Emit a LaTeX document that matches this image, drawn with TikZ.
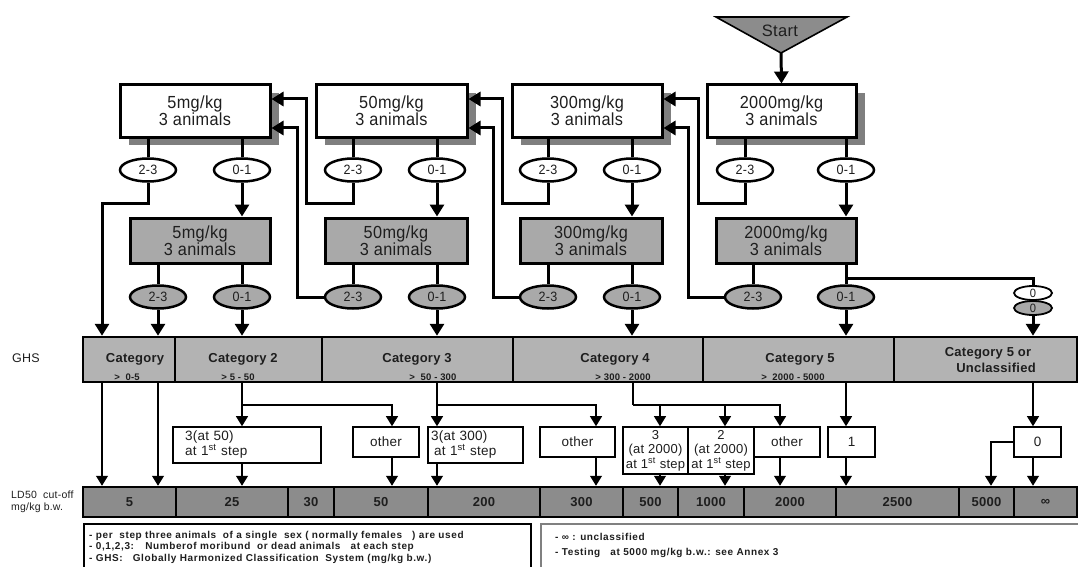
\documentclass[tikz,border=0pt]{standalone}
\usepackage{fontspec}
\setmainfont{Liberation Sans}[LetterSpace=2]
\newfontfamily\notefont{Liberation Sans}[LetterSpace=6]
\newfontfamily\boxfont{Liberation Sans}[LetterSpace=2,FakeStretch=0.93]
\usetikzlibrary{arrows.meta,shadows,shapes.geometric}
\definecolor{shgray}{HTML}{7F7F7F}
\definecolor{boxgray}{HTML}{A9A9A9}
\definecolor{ghsgray}{HTML}{B3B3B3}
\definecolor{ldgray}{HTML}{8C8C8C}
\definecolor{ink}{HTML}{1E1E1E}
\newcommand{\myfs}[2]{\fontsize{#1}{#2}\selectfont}
\begin{document}
\begin{tikzpicture}[x=1pt,y=-1pt,
  every node/.style={text=ink},
  hline/.style={line width=3pt},
  harr/.style={line width=3pt,-{Triangle[length=12pt,width=14pt]}},
  lline/.style={line width=1.2pt},
  larr/.style={line width=1.2pt,-{Triangle[length=10pt,width=12pt]}},
  wbox/.style={draw,line width=3pt,fill=white,inner sep=0pt,minimum height=52pt,align=center,font=\boxfont\myfs{17.5}{17},
    drop shadow={shadow xshift=9pt,shadow yshift=-8pt,fill=shgray,opacity=1}},
  gbox/.style={draw,line width=3pt,fill=boxgray,inner sep=0pt,minimum height=45pt,align=center,font=\boxfont\myfs{17.5}{17.5}},
  ell/.style={ellipse,draw,line width=2.5pt,fill=white,minimum width=56pt,minimum height=23pt,inner sep=0pt,font=\boxfont\myfs{13.5}{14}},
  gell/.style={ell,fill=boxgray},
  zell/.style={ellipse,draw,line width=1.8pt,minimum width=38pt,minimum height=14pt,inner sep=0pt,font=\boxfont\myfs{12}{12}},
  ghs/.style={draw,line width=2.5pt,fill=ghsgray,minimum height=45pt,inner sep=0pt},
  ld/.style={draw,line width=2.5pt,fill=ldgray,minimum height=30pt,inner sep=0pt,font=\bfseries\myfs{13}{14}},
  mbox/.style={draw,line width=1.6pt,fill=white,inner sep=0pt,font=\myfs{13.5}{15}},
  catl/.style={font=\bfseries\myfs{13}{14}},
  rngl/.style={font=\bfseries\myfs{9.5}{10}},
  note/.style={font=\notefont\bfseries\myfs{10}{11},anchor=base west,inner sep=0pt},
]
\useasboundingbox (0,0) rectangle (1078,567);
\clip (0,0) rectangle (1078,567);

% Start
\fill[ldgray] (716,17) -- (847,17) -- (781,53) -- cycle;
\draw[line width=1.6pt,line join=miter] (716,17) -- (847,17) -- (781,53) -- cycle;
\node[font=\myfs{16.5}{17}] (st) at (780,31) {Start};
\coordinate (sa) at (781,53);

% white boxes
\node[wbox,minimum width=150pt] (w1) at (195,111) {5mg/kg\\3 animals};
\node[wbox,minimum width=151pt] (w2) at (391.5,111) {50mg/kg\\3 animals};
\node[wbox,minimum width=150pt] (w3) at (587,111) {300mg/kg\\3 animals};
\node[wbox,minimum width=149pt] (w4) at (781.5,111) {2000mg/kg\\3 animals};

% gray boxes
\node[gbox,minimum width=140pt] (g1) at (200,240.5) {5mg/kg\\3 animals};
\node[gbox,minimum width=142pt] (g2) at (396,240.5) {50mg/kg\\3 animals};
\node[gbox,minimum width=142pt] (g3) at (591,240.5) {300mg/kg\\3 animals};
\node[gbox,minimum width=140pt] (g4) at (786,240.5) {2000mg/kg\\3 animals};

% white ellipses
\node[ell] (e1a) at (148,170) {2-3};
\node[ell] (e1b) at (242,170) {0-1};
\node[ell] (e2a) at (353,170) {2-3};
\node[ell] (e2b) at (437,170) {0-1};
\node[ell] (e3a) at (548,170) {2-3};
\node[ell] (e3b) at (632,170) {0-1};
\node[ell] (e4a) at (745,170) {2-3};
\node[ell] (e4b) at (846,170) {0-1};

% gray ellipses
\node[gell] (ga1) at (158,297) {2-3};
\node[gell] (gb1) at (242,297) {0-1};
\node[gell] (ga2) at (353,297) {2-3};
\node[gell] (gb2) at (437,297) {0-1};
\node[gell] (ga3) at (548,297) {2-3};
\node[gell] (gb3) at (632,297) {0-1};
\node[gell] (ga4) at (753,297) {2-3};
\node[gell] (gb4) at (846,297) {0-1};

\node[zell,fill=white] (z1) at (1033,293) {0};
\node[zell,fill=boxgray] (z2) at (1033,308) {0};

% GHS bar
\node[ghs,minimum width=92pt] (c1) at (129,359.5) {};
\node[ghs,minimum width=147pt] (c2) at (248.5,359.5) {};
\node[ghs,minimum width=191pt] (c3) at (417.5,359.5) {};
\node[ghs,minimum width=190pt] (c4) at (608,359.5) {};
\node[ghs,minimum width=191pt] (c5) at (798.5,359.5) {};
\node[ghs,minimum width=183pt] (c6) at (985.5,359.5) {};
\node[catl] (t1) at (135,359) {Category};
\node[rngl] (r1) at (127,377) {>~~0-5};
\node[catl] (t2) at (243,359) {Category 2};
\node[rngl] (r2) at (238,377) {> 5 - 50};
\node[catl] (t3) at (417,359) {Category 3};
\node[rngl] (r3) at (433,377) {>~ 50 - 300};
\node[catl] (t4) at (615,359) {Category 4};
\node[rngl] (r4) at (623,377) {> 300 - 2000};
\node[catl] (t5) at (800,359) {Category 5};
\node[rngl] (r5) at (793,377) {>~ 2000 - 5000};
\node[catl] (t6a) at (988,353) {Category 5 or};
\node[catl] (t6b) at (996,368) {Unclassified};
\node[font=\myfs{12.5}{14}] (ghsl) at (26,358) {GHS};

% LD50 bar
\node[ld,minimum width=93pt] (l1) at (129.5,502) {5};
\node[ld,minimum width=112pt] (l2) at (232,502) {25};
\node[ld,minimum width=46pt] (l3) at (311,502) {30};
\node[ld,minimum width=94pt] (l4) at (381,502) {50};
\node[ld,minimum width=112pt] (l5) at (484,502) {200};
\node[ld,minimum width=83pt] (l6) at (581.5,502) {300};
\node[ld,minimum width=55pt] (l7) at (650.5,502) {500};
\node[ld,minimum width=66pt] (l8) at (711,502) {1000};
\node[ld,minimum width=92pt] (l9) at (790,502) {2000};
\node[ld,minimum width=123pt] (l10) at (897.5,502) {2500};
\node[ld,minimum width=55pt] (l11) at (986.5,502) {5000};
\node[ld,minimum width=63pt] (l12) at (1045.5,502) {∞};
\node[font=\myfs{10.5}{11.5},align=left,anchor=west,inner sep=0pt] (ldl) at (11,502) {LD50 \ cut-off\\mg/kg b.w.};

% middle boxes
\node[mbox,minimum width=148pt,minimum height=36pt,text width=124pt,align=left] (b1) at (247,445) {3(at 50)\\at 1\textsuperscript{st} step};
\node[mbox,minimum width=66pt,minimum height=30pt] (o1) at (386,442) {other};
\node[mbox,minimum width=95pt,minimum height=36pt,text width=89pt,align=left] (b2) at (475.5,445) {3(at 300)\\\hspace*{3pt}at 1\textsuperscript{st} step};
\node[mbox,minimum width=75pt,minimum height=30pt] (o2) at (577.5,442) {other};
\node[mbox,minimum width=65pt,minimum height=47pt,align=center,font=\myfs{13}{14.5}] (b3) at (655.5,450.5) {3\\(at 2000)\\at 1\textsuperscript{st} step};
\node[mbox,minimum width=66pt,minimum height=47pt,align=center,font=\myfs{13}{14.5}] (b4) at (721,450.5) {2\\(at 2000)\\at 1\textsuperscript{st} step};
\node[mbox,minimum width=66pt,minimum height=30pt] (o3) at (787,442) {other};
\node[mbox,minimum width=47pt,minimum height=30pt] (n1) at (851.5,442) {1};
\node[mbox,minimum width=47pt,minimum height=30pt] (n0) at (1037.5,442) {0};

% notes
\node[draw,line width=1.5pt,anchor=north west,minimum width=447pt,minimum height=60pt,inner sep=0pt] (nb1) at (83,523) {};
\node[draw=gray,line width=1.5pt,anchor=north west,minimum width=545pt,minimum height=60pt,inner sep=0pt] (nb2) at (540,523) {};
\node[note] (n1a) at (89,538.5) {- per~ step three animals~ of a single~ sex ( normally females~~ ) are used};
\node[note] (n1b) at (89,549.5) {- 0,1,2,3:~~ Numberof moribund~ or dead animals~~ at each step};
\node[note] (n1c) at (89,561) {- GHS:~~ Globally Harmonized Classification~ System (mg/kg b.w.)};
\node[note] (n2a) at (555,540.5) {- ∞ : unclassified};
\node[note] (n2b) at (555,555) {- Testing~~ at 5000 mg/kg b.w.: see Annex 3};

% ---- heavy connectors ----
\draw[harr] (sa) -- (w4.north);
\foreach \e/\b in {e1a/w1,e1b/w1,e2a/w2,e2b/w2,e3a/w3,e3b/w3,e4a/w4,e4b/w4,ga1/g1,gb1/g1,ga2/g2,gb2/g2,ga3/g3,gb3/g3,ga4/g4,gb4/g4}
  \draw[hline] (\b.south -| \e.north) -- (\e.north);
\draw[harr] (e1b.south) -- (g1.north -| e1b.south);
\draw[harr] (e2b.south) -- (g2.north -| e2b.south);
\draw[harr] (e3b.south) -- (g3.north -| e3b.south);
\draw[harr] (e4b.south) -- (g4.north -| e4b.south);
\draw[harr] (e1a.south) |- (102,203) -- (c1.north -| 102,0);
\draw[harr] (e2a.south) |- (306,203) |- (w1.east |- 0,99);
\draw[harr] (ga2.west) -| (297,128) -- (w1.east |- 0,128);
\draw[harr] (e3a.south) |- (502,203) |- (w2.east |- 0,99);
\draw[harr] (ga3.west) -| (493,128) -- (w2.east |- 0,128);
\draw[harr] (e4a.south) |- (698,203) |- (w3.east |- 0,99);
\draw[harr] (ga4.west) -| (688,128) -- (w3.east |- 0,128);
\foreach \e/\c in {ga1/c1,gb1/c2,gb2/c3,gb3/c4,gb4/c5}
  \draw[harr] (\e.south) -- (\c.north -| \e.south);
\coordinate (j5) at (846,278);
\draw[hline] (j5) -| (z1.north);
\draw[harr] (z2.south) -- (c6.north -| z2.south);

% ---- light connectors ----
\draw[larr] (c1.south -| 102,0) -- (l1.north -| 102,0);
\draw[larr] (c1.south -| 158,0) -- (l1.north -| 158,0);
\draw[larr] (c2.south -| 242,0) -- (b1.north -| 242,0);
\coordinate (j2) at (242,405);
\draw[larr] (j2) -| (o1.north -| 392,0);
\draw[larr] (b1.south -| 242,0) -- (l2.north -| 242,0);
\draw[larr] (o1.south -| 392,0) -- (l4.north -| 392,0);
\draw[larr] (c3.south -| 437,0) -- (b2.north -| 437,0);
\coordinate (j3) at (437,405);
\draw[larr] (j3) -| (o2.north -| 596,0);
\draw[larr] (b2.south -| 437,0) -- (l5.north -| 437,0);
\draw[larr] (o2.south -| 596,0) -- (l6.north -| 596,0);
\coordinate (j4) at (633,405);
\draw[lline] (c4.south -| j4) -- (j4);
\draw[larr] (j4) -| (b3.north -| 660,0);
\draw[larr] (j4) -| (b4.north -| 725,0);
\draw[larr] (j4) -| (o3.north -| 780,0);
\draw[larr] (b3.south -| 660,0) -- (l7.north -| 660,0);
\draw[larr] (b4.south -| 725,0) -- (l8.north -| 725,0);
\draw[larr] (o3.south -| 780,0) -- (l9.north -| 780,0);
\draw[larr] (c5.south -| 846,0) -- (n1.north -| 846,0);
\draw[larr] (n1.south -| 846,0) -- (l10.north -| 846,0);
\draw[larr] (c6.south -| 1033,0) -- (n0.north -| 1033,0);
\draw[larr] (n0.south -| 1033,0) -- (l12.north -| 1033,0);
\draw[larr] (n0.west) -| (l11.north -| 991,0);
\end{tikzpicture}
\end{document}
